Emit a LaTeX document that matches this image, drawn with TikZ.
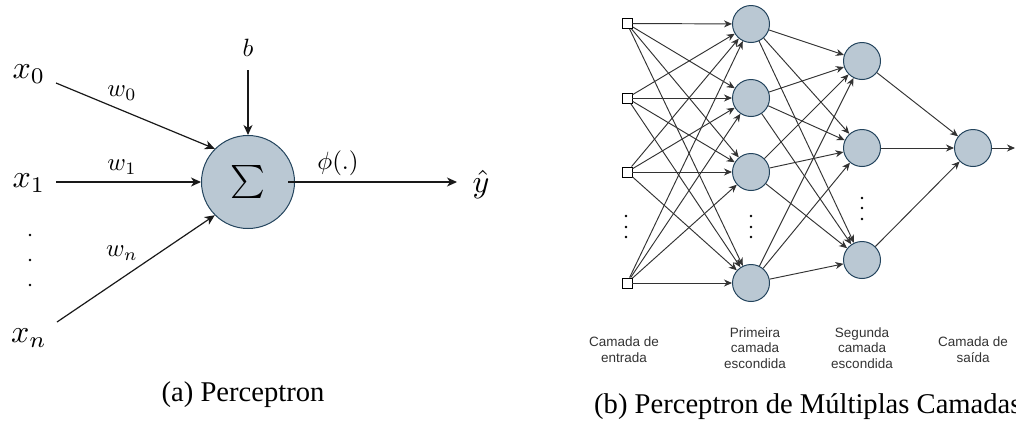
\documentclass[tikz,border=0pt]{standalone}
\usepackage{fontspec}
\setmainfont{Liberation Serif}
\setsansfont{Liberation Sans}
\usetikzlibrary{arrows.meta}
\definecolor{nfill}{HTML}{BAC8D3}
\definecolor{nstroke}{HTML}{23445D}
\definecolor{lgray}{HTML}{333333}
\begin{document}
\begin{tikzpicture}[x=1pt,y=-1pt,
  neuron/.style={circle,draw=nstroke,fill=nfill,line width=1pt,inner sep=0pt},
  inbox/.style={draw=black,fill=white,line width=0.9pt,minimum size=10pt,inner sep=0pt},
  bigarrow/.style={line width=1.2pt,draw=black!90,-{Stealth[length=10pt,width=9pt,inset=3pt]}},
  netarrow/.style={line width=0.95pt,draw=lgray,-{Stealth[length=8pt,width=7pt,inset=2.5pt]}},
  mathlab/.style={inner sep=0pt,font=\fontsize{10}{12}\selectfont},
  biglab/.style={mathlab,scale=3.2},
  smalllab/.style={mathlab,scale=2.5},
  layerlab/.style={inner sep=0pt,align=center,text=lgray,font=\sffamily\fontsize{13.5}{15.5}\selectfont},
  caption/.style={inner sep=0pt,font=\fontsize{28.6}{34}\selectfont},
  dotmark/.style={circle,fill=black,inner sep=0pt,minimum size=2.6pt}
]
\clip (0,0) rectangle (1016,421);
\useasboundingbox (0,0) rectangle (1016,421);
% ---------- (a) Perceptron ----------
\node[neuron,minimum size=93pt] (sig) at (248,182) {};
\node[mathlab,scale=3.3] (sigma) at (sig.center) {$\textstyle\sum$};
\node[biglab] (x0) at (29,74) {$x_0$};
\node[biglab] (x1) at (29,183) {$x_1$};
\node[biglab] (xn) at (29,338) {$x_n$};
\node[dotmark] (d1) at (30,235) {};
\node[dotmark] (d2) at (30,260) {};
\node[dotmark] (d3) at (30,285) {};
\node[smalllab] (b) at (248,48) {$b$};
\node[smalllab] (w0) at (122,93) {$w_0$};
\node[smalllab] (w1) at (122,167) {$w_1$};
\node[smalllab] (wn) at (122,253) {$w_n$};
\node[smalllab] (phi) at (338,163) {$\phi(.)$};
\node[biglab] (yhat) at (481,184) {$\hat{y}$};
\coordinate (s0) at (56,83);
\coordinate (s1) at (56,182);
\coordinate (sn) at (57,322);
\coordinate (sb) at (248,70);
\coordinate (yend) at (457,182);
\draw[bigarrow] (s0) -- (sig.135);
\draw[bigarrow] (s1) -- (sig.west);
\draw[bigarrow] (sn) -- (sig.225);
\draw[bigarrow] (sb) -- (sig.north);
\draw[bigarrow] ([xshift=-7pt]sig.east) -- (yend);
\node[caption] (capa) at (243,395) {(a) Perceptron};
% ---------- (b) MLP ----------
\node[inbox] (i1) at (627,23.5) {};
\node[inbox] (i2) at (627,98) {};
\node[inbox] (i3) at (627,172) {};
\node[inbox] (i4) at (627,283) {};
\foreach \n/\y in {1/24,2/98,3/172,4/283}
  \node[neuron,minimum size=37pt] (h\n) at (751,\y) {};
\foreach \n/\y in {1/61,2/148,3/260}
  \node[neuron,minimum size=37pt] (g\n) at (862,\y) {};
\node[neuron,minimum size=37pt] (o) at (973,148) {};
\coordinate (oend) at (1015,148);
\foreach \i in {1,...,4}
  \foreach \h in {1,...,4}
    \draw[netarrow] (i\i) -- (h\h);
\foreach \h in {1,...,4}
  \foreach \g in {1,...,3}
    \draw[netarrow] (h\h) -- (g\g);
\foreach \g in {1,...,3}
  \draw[netarrow] (g\g) -- (o);
\draw[netarrow] (o) -- (oend);
\node[dotmark] (ea1) at (626,216) {};
\node[dotmark] (ea2) at (626,227) {};
\node[dotmark] (ea3) at (626,237) {};
\node[dotmark] (eb1) at (751,216) {};
\node[dotmark] (eb2) at (751,227) {};
\node[dotmark] (eb3) at (751,237) {};
\node[dotmark] (ec1) at (862,198) {};
\node[dotmark] (ec2) at (862,208) {};
\node[dotmark] (ec3) at (862,219) {};
\node[layerlab] (l1) at (624,349.5) {Camada de\\entrada};
\node[layerlab] (l2) at (755,348) {Primeira\\camada\\escondida};
\node[layerlab] (l3) at (862,348) {Segunda\\camada\\escondida};
\node[layerlab] (l4) at (973,349.5) {Camada de\\saída};
\node[caption,anchor=west] (capb) at (594,407) {(b) Perceptron de Múltiplas Camadas};
\end{tikzpicture}
\end{document}
